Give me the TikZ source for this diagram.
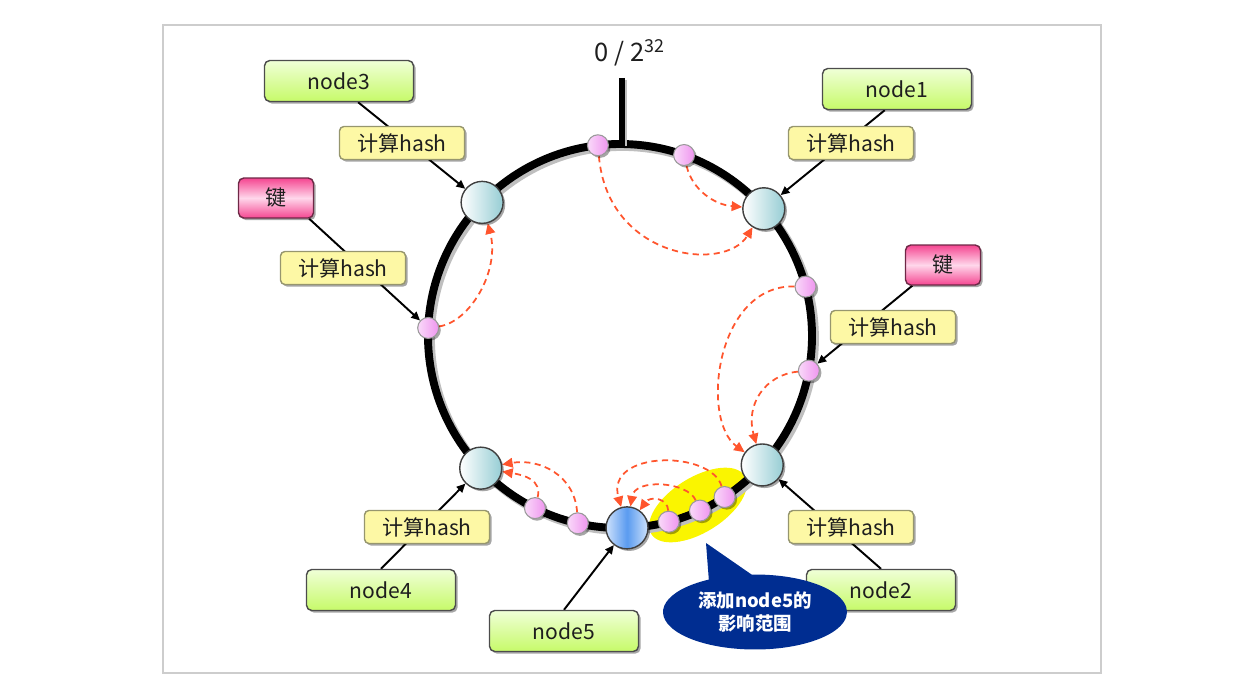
\documentclass[tikz,border=0pt]{standalone}
\usepackage{fontspec}
\setmainfont{Noto Sans CJK SC}
\usetikzlibrary{arrows.meta,positioning,calc,shadows,shapes.callouts}
\definecolor{framegray}{RGB}{205,205,205}
\definecolor{darktext}{RGB}{30,30,30}
\definecolor{dashred}{RGB}{255,85,45}
\definecolor{hashfill}{RGB}{253,248,165}
\definecolor{hashedge}{RGB}{150,150,110}
\definecolor{limetop}{RGB}{240,255,215}
\definecolor{limebot}{RGB}{198,250,105}
\definecolor{keytop}{RGB}{245,70,145}
\definecolor{keymid}{RGB}{255,215,235}
\definecolor{keyedge}{RGB}{110,40,70}
\definecolor{slotteal}{RGB}{150,205,212}
\definecolor{dotpink}{RGB}{236,130,236}
\definecolor{newblue}{RGB}{90,155,240}
\definecolor{calloutblue}{RGB}{0,45,145}
\definecolor{hiyellow}{RGB}{250,245,0}
\pgfdeclarelayer{ringlayer}
\pgfdeclarelayer{linelayer}
\pgfsetlayers{ringlayer,linelayer,main}
\tikzset{
  boxshadow/.style={drop shadow={shadow xshift=1.2pt,shadow yshift=-1.2pt,
    opacity=0.35,fill=black}},
  namebox/.style={rectangle,rounded corners=3pt,draw=black!70,line width=0.8pt,
    top color=limetop,bottom color=limebot,minimum width=2.98cm,
    minimum height=0.82cm,font=\fontsize{12}{14}\selectfont,text=darktext,boxshadow},
  hashbox/.style={rectangle,rounded corners=2.5pt,draw=hashedge,line width=0.8pt,
    fill=hashfill,minimum width=2.5cm,minimum height=0.66cm,
    font=\fontsize{12}{14}\selectfont,text=darktext,boxshadow},
  keybox/.style={rectangle,rounded corners=3pt,draw=keyedge,line width=0.8pt,
    top color=keytop,bottom color=keytop,middle color=keymid,
    minimum width=1.5cm,minimum height=0.8cm,
    font=\fontsize{12}{14}\selectfont,text=darktext,boxshadow},
  slotnode/.style={circle,draw=black!75,line width=0.8pt,inner sep=0pt,
    minimum size=0.84cm,left color=white,right color=slotteal,boxshadow},
  keydot/.style={circle,draw=black!40,line width=0.6pt,inner sep=0pt,
    minimum size=0.42cm,left color=dotpink!30,right color=dotpink!85,boxshadow},
  hashline/.style={-{Triangle[length=5pt,width=4.5pt]},line width=1.1pt,black},
  moveline/.style={-{Triangle[length=6pt,width=5.5pt]},line width=1pt,
    dashred,dash pattern=on 3.5pt off 2.5pt},
  calloutnote/.style={ellipse callout,fill=calloutblue,text=white,
    minimum width=3.68cm,minimum height=1.5cm,inner sep=0pt,
    callout pointer arc=28,align=center,
    font=\fontsize{10.5}{13}\selectfont\bfseries},
}

\begin{document}
\begin{tikzpicture}[x=0.02cm,y=-0.02cm]
\useasboundingbox (0,0) rectangle (1243,699);
\draw[framegray,line width=0.6pt] (163,25) rectangle (1101,673);
\coordinate (ctr) at (620,336);

% ring, highlight and zero mark
\begin{pgfonlayer}{ringlayer}
\fill[hiyellow,rotate around={32:(698,505)}] (698,505)
  ellipse [x radius=1.1cm,y radius=0.55cm];
\draw[line width=5pt,black!25] ([shift={(2.5,2.5)}]ctr) circle[radius=192];
\draw[line width=4.5pt,black] (ctr) circle[radius=192];
\draw[line width=3.2pt,black!25] (624.5,80) -- (624.5,146);
\draw[line width=3pt,black] (622,78) -- (622,146);
\end{pgfonlayer}
\node[font=\fontsize{14.5}{16}\selectfont,text=darktext] (zero) at (630,53)
  {0 / 2\textsuperscript{32}};

% servers on the ring
\node[slotnode] (c1) at ($(ctr)+(-41.5:192)$) {};
\node[slotnode] (c2) at ($(ctr)+(42.2:192)$) {};
\node[slotnode] (c3) at ($(ctr)+(-135.9:192)$) {};
\node[slotnode] (c4) at ($(ctr)+(136.5:192)$) {};
\node[slotnode,left color=newblue!30,right color=newblue!30,middle color=newblue]
  (c5) at ($(ctr)+(87.9:192)$) {};

% keys on the ring
\foreach \a/\n in {-96.6/p1,-70.5/p2,-14.9/p3,10.4/p4,182.4/p5,
                   116.3/p6,102.7/p7,75.3/p8,65.4/p9,57/p10}
  \node[keydot] (\n) at ($(ctr)+(\a:192)$) {};

% labels
\node[namebox] (n3) at (339,81) {node3};
\node[hashbox] (h3) at (402,143) {计算hash};
\node[keybox]  (kL) at (276,198) {键};
\node[hashbox] (hL) at (343,268) {计算hash};
\node[namebox] (n1) at (897,89) {node1};
\node[hashbox] (h1) at (851,143) {计算hash};
\node[keybox]  (kR) at (943,265) {键};
\node[hashbox] (hR) at (893,327) {计算hash};
\node[hashbox] (h4) at (427,527) {计算hash};
\node[namebox] (n4) at (381,590) {node4};
\node[namebox] (n5) at (564,631) {node5};
\node[hashbox] (h2) at (851,527) {计算hash};
\node[namebox] (n2) at (881,590) {node2};

\begin{pgfonlayer}{linelayer}
\draw[hashline] (n3.-48) -- (c3);
\draw[hashline] (kL.-32) -- (p5);
\draw[hashline] (n1.-120) -- (c1);
\draw[hashline] (kR.-146) -- (p4);
\draw[hashline] (n4.north) -- (c4);
\draw[hashline] (n5.north) -- (c5);
\draw[hashline] (n2.north) -- (c2);
% keys move to the next server clockwise
\draw[moveline] (p1) .. controls +(10,114) and +(-39,64) .. (c1);
\draw[moveline] (p2) .. controls +(8,35) and +(-49,-4) .. (c1);
\draw[moveline] (p5) .. controls +(42,-6) and +(18,68) .. (c3);
\draw[moveline] (p3) .. controls +(-90,-2) and +(-62,-45) .. (c2);
\draw[moveline] (p4) .. controls +(-44,4) and +(-17,-60) .. (c2);
\draw[moveline] (p6) .. controls +(7,-28) and +(44,7) .. (c4);
\draw[moveline] (p7) .. controls +(-3,-48) and +(59,-10) .. (c4);
\draw[moveline] (p10) .. controls +(-13,-47) and +(-22,-78) .. (c5);
\draw[moveline] (p9) .. controls +(-12,-29) and +(8,-50) .. (c5);
\draw[moveline] (p8) .. controls +(-1,-24) and +(23,-32) .. (c5);
\end{pgfonlayer}

\node[calloutnote,callout absolute pointer={(706,543)}] (note) at (755,612)
  {添加node5的\\影响范围};
\end{tikzpicture}
\end{document}
